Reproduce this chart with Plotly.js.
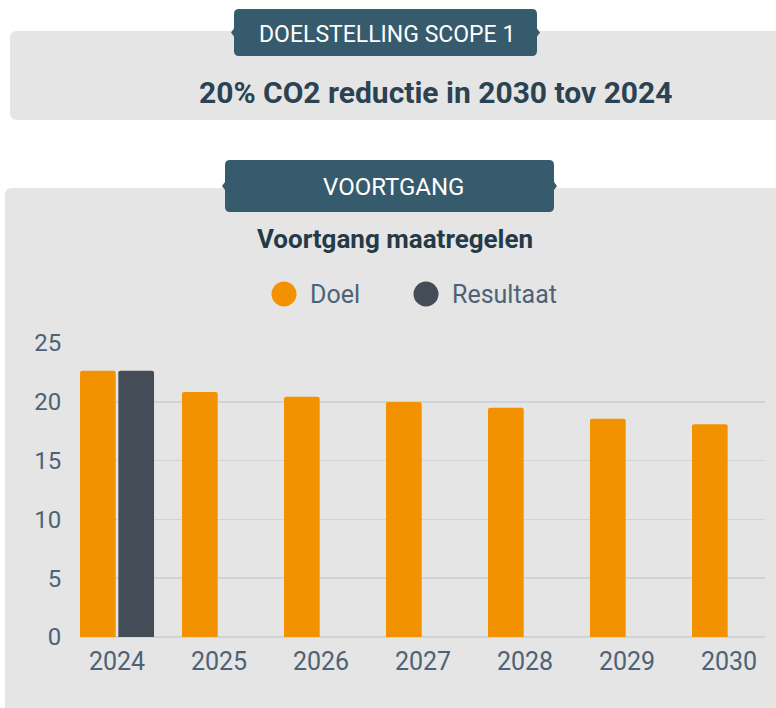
<!DOCTYPE html>
<html>
<head>
<meta charset="utf-8">
<script src="https://cdn.plot.ly/plotly-3.0.1.min.js"></script>
<style>html,body{margin:0;padding:0;background:#fff;}#chart{width:776px;height:708px;}</style>
</head>
<body>
<div id="chart"></div>
<script>
// ---- data ----
var years = ['2024', '2025', '2026', '2027', '2028', '2029', '2030'];
var doel = [22.65, 20.83, 20.43, 19.98, 19.5, 18.56, 18.1];
var resultaat = [22.65, null, null, null, null, null, null];
var seriesNames = ['Doel', 'Resultaat'];
var yTicks = [0, 5, 10, 15, 20, 25];
var headerBadge = 'DOELSTELLING SCOPE 1';
var headerText = '20% CO2 reductie in 2030 tov 2024';
var sectionBadge = 'VOORTGANG';
var chartTitle = 'Voortgang maatregelen';

// ---- layout geometry (pixels) ----
var WIDTH = 776, HEIGHT = 708;
var L = 80, R = 765, T = 343, B = 637;
var PW = R - L, PH = B - T;
function fx(x) { return (x - L) / PW; }
function fy(y) { return (B - y) / PH; }

var ORANGE = '#f39200', DARK = '#444c58', PANEL = '#e5e5e5', BADGE = '#365b6d';
var TXT = '#4d6276';

function roundRect(x0, y0, x1, y1, r, notch) {
  var ym = (y0 + y1) / 2, n = 4, p = 3;
  var s = 'M' + fx(x0 + r) + ',' + fy(y0) +
    ' L' + fx(x1 - r) + ',' + fy(y0) +
    ' Q' + fx(x1) + ',' + fy(y0) + ' ' + fx(x1) + ',' + fy(y0 + r);
  if (notch) {
    s += ' L' + fx(x1) + ',' + fy(ym - n) + ' L' + fx(x1 + p) + ',' + fy(ym) + ' L' + fx(x1) + ',' + fy(ym + n);
  }
  s += ' L' + fx(x1) + ',' + fy(y1 - r) +
    ' Q' + fx(x1) + ',' + fy(y1) + ' ' + fx(x1 - r) + ',' + fy(y1) +
    ' L' + fx(x0 + r) + ',' + fy(y1) +
    ' Q' + fx(x0) + ',' + fy(y1) + ' ' + fx(x0) + ',' + fy(y1 - r);
  if (notch) {
    s += ' L' + fx(x0) + ',' + fy(ym + n) + ' L' + fx(x0 - p) + ',' + fy(ym) + ' L' + fx(x0) + ',' + fy(ym - n);
  }
  s += ' L' + fx(x0) + ',' + fy(y0 + r) +
    ' Q' + fx(x0) + ',' + fy(y0) + ' ' + fx(x0 + r) + ',' + fy(y0) + ' Z';
  return s;
}

function pathShape(d, color) {
  return { type: 'path', xref: 'paper', yref: 'paper', path: d, fillcolor: color, line: { width: 0 }, layer: 'below' };
}
function circleShape(cx, cy, r, color) {
  return { type: 'circle', xref: 'paper', yref: 'paper', x0: fx(cx - r), x1: fx(cx + r), y0: fy(cy + r), y1: fy(cy - r),
    fillcolor: color, line: { width: 0 }, layer: 'above' };
}
function ann(text, x, y, size, color, xanchor, bold) {
  return { text: bold ? '<b>' + text + '</b>' : text, xref: 'paper', yref: 'paper', x: fx(x), y: fy(y),
    xanchor: xanchor || 'center', yanchor: 'middle', showarrow: false,
    font: { family: 'Roboto, sans-serif', size: size, color: color } };
}

var shapes = [
  pathShape(roundRect(10, 31, 800, 120, 7, false), PANEL),
  pathShape(roundRect(5, 188, 800, 740, 7, false), PANEL),
  pathShape(roundRect(234, 9, 537, 56, 5, true), BADGE),
  pathShape(roundRect(225, 160, 554, 212, 5, true), BADGE),
  circleShape(284, 294, 12.5, ORANGE),
  circleShape(426, 294, 12.5, DARK)
];

var annotations = [
  ann(headerBadge, 387, 34, 23, '#ffffff'),
  ann(headerText, 436, 92, 30, '#2b4252', 'center', true),
  ann(sectionBadge, 393, 187, 24, '#ffffff'),
  ann(seriesNames[0], 308, 294, 25, TXT, 'left'),
  ann(seriesNames[1], 450, 294, 25, TXT, 'left')
];

var traces = [
  { type: 'bar', name: seriesNames[0], x: years, y: doel, marker: { color: ORANGE }, showlegend: false, hoverinfo: 'x+y+name' },
  { type: 'bar', name: seriesNames[1], x: years, y: resultaat, marker: { color: DARK }, showlegend: false, hoverinfo: 'x+y+name' }
];

var layout = {
  width: WIDTH, height: HEIGHT,
  margin: { l: L, r: WIDTH - R, t: T, b: HEIGHT - B, pad: 0 },
  paper_bgcolor: '#ffffff',
  plot_bgcolor: 'rgba(0,0,0,0)',
  barmode: 'group',
  bargap: 0.249,
  bargroupgap: 0.068,
  barcornerradius: 2,
  showlegend: false,
  title: {
    text: '<b>' + chartTitle + '</b>',
    x: 395 / WIDTH, xanchor: 'center',
    y: 1 - 239 / HEIGHT, yanchor: 'middle', yref: 'container',
    font: { family: 'Roboto, sans-serif', size: 26, color: '#243a48' }
  },
  xaxis: {
    type: 'category',
    range: [-0.363, 6.353],
    showgrid: false, zeroline: false, showline: false,
    ticks: 'outside', ticklen: 2, tickcolor: 'rgba(0,0,0,0)',
    tickfont: { family: 'Roboto, sans-serif', size: 25, color: TXT },
    fixedrange: true
  },
  yaxis: {
    range: [0, 25],
    tickvals: yTicks,
    showgrid: true, gridcolor: '#d0d4d8', gridwidth: 1.5,
    zeroline: true, zerolinecolor: '#d0d4d8', zerolinewidth: 1.5,
    showline: false,
    ticks: 'outside', ticklen: 13, tickcolor: 'rgba(0,0,0,0)',
    tickfont: { family: 'Roboto, sans-serif', size: 24, color: TXT },
    fixedrange: true
  },
  shapes: shapes,
  annotations: annotations,
  font: { family: 'Roboto, sans-serif' }
};

Plotly.newPlot('chart', traces, layout, { displayModeBar: false, staticPlot: true });
</script>
</body>
</html>
